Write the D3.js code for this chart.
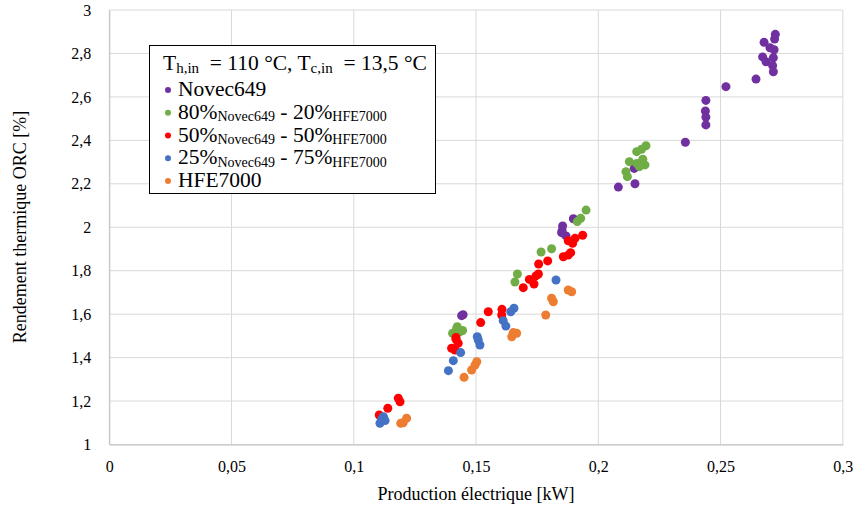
<!DOCTYPE html>
<html><head><meta charset="utf-8">
<script src="https://cdn.jsdelivr.net/npm/d3@7"></script>
<style>body{margin:0;background:#fff}svg{display:block}svg text{font-family:"Liberation Serif","Times New Roman",serif !important}</style>
</head><body><svg id="c" width="856" height="510"></svg>
<script>
const xTicks = [0,0.05,0.1,0.15,0.2,0.25,0.3];
const yTicks = [1,1.2,1.4,1.6,1.8,2,2.2,2.4,2.6,2.8,3];
const seriesNames = ["Novec649","80/20","50/50","25/75","HFE7000"];
const seriesColors = ["#7030A0","#70AD47","#FF0000","#4472C4","#ED7D31"];

const novec649 = [[0.2724,2.888],[0.2721,2.866],[0.2678,2.851],[0.2702,2.826],[0.2719,2.817],[0.2672,2.784],[0.2716,2.780],[0.2686,2.762],[0.2713,2.744],[0.2716,2.716],[0.2645,2.682],[0.2522,2.647],[0.2440,2.584],[0.2438,2.535],[0.2440,2.507],[0.2440,2.471],[0.2356,2.391],[0.2082,2.185],[0.2150,2.200],[0.2147,2.271],[0.1898,2.039],[0.1854,2.006],[0.1852,1.984],[0.1868,1.960],[0.1850,1.975],[0.1441,1.593],[0.1447,1.597]];
const mix80 = [[0.2195,2.375],[0.2177,2.359],[0.2157,2.348],[0.2182,2.313],[0.2127,2.302],[0.2157,2.294],[0.2191,2.287],[0.2168,2.279],[0.2113,2.256],[0.2119,2.233],[0.1950,2.079],[0.1928,2.041],[0.1914,2.026],[0.1809,1.901],[0.1766,1.886],[0.1669,1.785],[0.1659,1.748],[0.1421,1.535],[0.1404,1.512],[0.1434,1.519],[0.1423,1.542],[0.1445,1.525]];
const mix50 = [[0.1936,1.963],[0.1905,1.949],[0.1895,1.926],[0.1877,1.938],[0.1887,1.883],[0.1857,1.864],[0.1877,1.872],[0.1793,1.845],[0.1756,1.831],[0.1755,1.785],[0.1745,1.776],[0.1718,1.760],[0.1737,1.739],[0.1693,1.722],[0.1550,1.611],[0.1606,1.622],[0.1605,1.596],[0.1519,1.561],[0.1418,1.493],[0.1418,1.484],[0.1427,1.466],[0.1400,1.443],[0.1414,1.435],[0.1182,1.213],[0.1189,1.197],[0.1139,1.167],[0.1104,1.136]];
const mix25 = [[0.1827,1.757],[0.1655,1.627],[0.1642,1.611],[0.1611,1.570],[0.1622,1.545],[0.1505,1.496],[0.1516,1.458],[0.1509,1.481],[0.1437,1.423],[0.1407,1.386],[0.1387,1.340],[0.1121,1.128],[0.1107,1.098],[0.1128,1.110],[0.1114,1.116]];
const hfe7000 = [[0.1877,1.711],[0.1891,1.703],[0.1809,1.673],[0.1816,1.657],[0.1785,1.596],[0.1652,1.515],[0.1666,1.512],[0.1646,1.496],[0.1503,1.381],[0.1496,1.366],[0.1482,1.343],[0.1451,1.309],[0.1216,1.121],[0.1202,1.100],[0.1192,1.098]];
const allSeries = [novec649, mix80, mix50, mix25, hfe7000];

const svg = d3.select("#c");
const x = d3.scaleLinear().domain([0,0.3]).range([109.3,842.8]);
const y = d3.scaleLinear().domain([1,3]).range([444.5,10]);
const fmt = d => String(d).replace(".", ",");
const serif = '"Liberation Serif","Times New Roman",serif';

// grid
const g = svg.append("g");
g.selectAll(".gx").data(xTicks).join("line")
  .attr("x1",d=>x(d)).attr("x2",d=>x(d)).attr("y1",y(1)).attr("y2",y(3))
  .attr("stroke","#d9d9d9").attr("stroke-width",1);
g.selectAll(".gy").data(yTicks).join("line")
  .attr("y1",d=>y(d)).attr("y2",d=>y(d)).attr("x1",x(0)).attr("x2",x(0.3))
  .attr("stroke","#d9d9d9").attr("stroke-width",1);

// axes
const xa = svg.append("g").attr("transform",`translate(0,${y(1)})`)
  .call(d3.axisBottom(x).tickValues(xTicks).tickFormat(fmt).tickSize(0).tickPadding(16));
xa.attr("font-family",serif).attr("font-size",16);
xa.select(".domain").attr("stroke","#bfbfbf");
xa.selectAll("text").style("font-family",serif).style("font-size","16px").attr("fill","#000");
const ya = svg.append("g").attr("transform",`translate(${x(0)},0)`)
  .call(d3.axisLeft(y).tickValues(yTicks).tickFormat(fmt).tickSize(0).tickPadding(18));
ya.attr("font-family",serif).attr("font-size",16);
ya.select(".domain").attr("stroke","#bfbfbf");
ya.selectAll("text").style("font-family",serif).style("font-size","16px").attr("fill","#000");

svg.append("text").attr("x",476).attr("y",500).attr("text-anchor","middle")
  .style("font-size","18px").text("Production électrique [kW]");
svg.append("text").attr("transform","translate(26,227) rotate(-90)").attr("text-anchor","middle")
  .style("font-size","18px").text("Rendement thermique ORC [%]");

// points
allSeries.forEach((s,i)=>{
  svg.append("g").selectAll("circle").data(s).join("circle")
    .attr("cx",d=>x(d[0])).attr("cy",d=>y(d[1])).attr("r",4.5)
    .attr("fill",seriesColors[i]);
});

// legend
const lg = svg.append("g");
lg.append("rect").attr("x",149.5).attr("y",45.5).attr("width",286).attr("height",148)
  .attr("fill","#fff").attr("stroke","#000").attr("stroke-width",1);
const t = lg.append("text").attr("x",163).attr("y",70).style("font-size","21.5px");
t.append("tspan").text("T");
t.append("tspan").style("font-size","15px").attr("dy",3).text("h,in");
t.append("tspan").attr("dy",-3).text("\u00a0 = 110 °C, T");
t.append("tspan").style("font-size","15px").attr("dy",3).text("c,in");
t.append("tspan").attr("dy",-3).text("\u00a0 = 13,5 °C");

const legItems = [
  [["Novec649",0]],
  [["80%",0],["Novec649",1],[" - 20%",0],["HFE7000",1]],
  [["50%",0],["Novec649",1],[" - 50%",0],["HFE7000",1]],
  [["25%",0],["Novec649",1],[" - 75%",0],["HFE7000",1]],
  [["HFE7000",0]]
];
legItems.forEach((parts,i)=>{
  const by = 96 + i*22.75;
  lg.append("circle").attr("cx",168).attr("cy",by-6).attr("r",3).attr("fill",seriesColors[i]);
  const tx = lg.append("text").attr("x",178).attr("y",by).style("font-size","21.5px").style("white-space","pre");
  let sub = 0;
  parts.forEach(([s,isSub])=>{
    const ts = tx.append("tspan").text(s);
    if(isSub){ ts.style("font-size","14px"); if(!sub){ts.attr("dy",2.5); sub=1;} }
    else if(sub){ ts.attr("dy",-2.5); sub=0; }
  });
});
</script></body></html>
